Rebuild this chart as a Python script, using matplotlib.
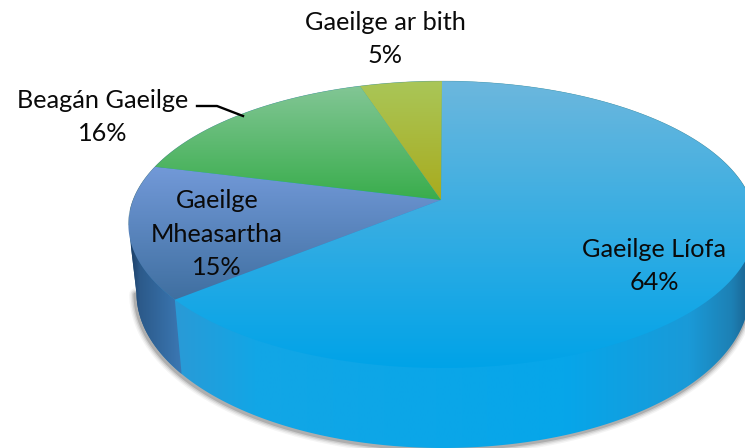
import numpy as np
import matplotlib
matplotlib.use('Agg')
import matplotlib.pyplot as plt
from matplotlib.colors import LinearSegmentedColormap
from matplotlib.patches import PathPatch
from matplotlib.path import Path

plt.rcParams['font.family'] = ['Lato', 'DejaVu Sans']

labels = ['Gaeilge Líofa', 'Gaeilge\nMheasartha', 'Beagán Gaeilge', 'Gaeilge ar bith']
values = [64, 15, 16, 5]
top_colors = [('#6cb7dd', '#00a3e8'), ('#7299d8', '#3f6fa0'), ('#82c695', '#39ad4c'), ('#aac658', '#a8ab1e')]

# perspective of the disc, in pixels of the picture
TOP_DISC = dict(cx=442, cy=200, a=309, b=139.3, k=0.1708)
BOTTOM_DISC = dict(cx=443, cy=266.5, a=302, b=150.5, k=0.1708)
APEX = (441, 200)


def project(frac, disc):
    # frac goes clockwise from twelve o'clock
    ang = 2 * np.pi * np.asarray(frac)
    x, y = np.sin(ang), np.cos(ang)
    d = 1 + disc['k'] * y
    return disc['cx'] + disc['a'] * x / d, disc['cy'] - disc['b'] * y / d


def fill_gradient(ax, path, stops, vertical=True, extent=None, zorder=2):
    cmap = LinearSegmentedColormap.from_list('g', stops)
    grad = np.linspace(0, 1, 256)
    grad = grad[:, None] if vertical else grad[None, :]
    x0, x1, y0, y1 = extent
    im = ax.imshow(grad, cmap=cmap, extent=(x0, x1, y1, y0), aspect='auto', origin='upper',
                   vmin=0, vmax=1, zorder=zorder, interpolation='bilinear')
    patch = PathPatch(path, transform=ax.transData, fc='none', ec='none')
    ax.add_patch(patch)
    im.set_clip_path(patch)


fig = plt.figure(figsize=(7.45, 4.48), dpi=100)
ax = fig.add_axes([0, 0, 1, 1])

t = np.linspace(0, 1, 721)[:-1]
tx, ty = project(t, TOP_DISC)
bx, by = project(t, BOTTOM_DISC)

# silhouette: top rim over the top, bottom rim under the bottom
i_r = np.argmax(tx)
i_l = np.argmin(tx)
j_r = np.argmax(bx)
j_l = np.argmin(bx)
upper = np.r_[i_l:len(t), 0:i_r + 1]
lower = np.arange(j_r, j_l + 1)
sil = np.vstack([np.c_[tx[upper], ty[upper]], np.c_[bx[lower], by[lower]]])
sil_path = Path(np.vstack([sil, sil[0]]), closed=True)

# soft shadow round the lower edge
for lw, al in zip([9, 7, 5, 3], [0.05, 0.08, 0.12, 0.2]):
    ax.plot(bx[lower] - 1, by[lower] + 1, color='#303030', lw=lw, alpha=al, zorder=1, solid_capstyle='round')

# wall of the big slice
stops = [(0, '#1c4f7a'), (0.07, '#2a9ad6'), (0.2, '#12a6e6'), (0.7, '#06a6ea'), (0.9, '#1a9ad8'), (0.97, '#1d80b4'), (1, '#1a5f8c')]
fill_gradient(ax, sil_path, stops, vertical=False, extent=(130, 752, 0, 448), zorder=2)

# wall of the periwinkle slice, left of the first boundary
bound = values[0] / sum(values)
px, py = project(bound, TOP_DISC)
qx, qy = project(bound, BOTTOM_DISC)
i_q = np.argmin(np.abs(t - bound))
seg = np.arange(i_q, j_l + 1)
wall = np.vstack([[px, py], np.c_[bx[seg], by[seg]], np.c_[tx[i_l:i_q:-1], ty[i_l:i_q:-1]], [px, py]])
fill_gradient(ax, Path(wall, closed=True), [(0, '#1d3f68'), (0.18, '#2c5a8a'), (1, '#3b78b4')],
              vertical=False, extent=(131, qx, 0, 448), zorder=3)

# top surface, one wedge at a time
cum = np.cumsum([0] + values) / sum(values)
for i in range(len(values)):
    f = np.linspace(cum[i], cum[i + 1], 300)
    wx, wy = project(f, TOP_DISC)
    pts = np.vstack([APEX, np.c_[wx, wy], APEX])
    if i == 0:
        e = (120, 760, float(ty.min()), float(ty.max()))
    else:
        e = (120, 760, float(wy.min()), max(float(wy.max()), APEX[1]))
    fill_gradient(ax, Path(pts, closed=True), list(top_colors[i]), extent=e, zorder=4 + i)

ax.plot(tx[upper], ty[upper], color='#5a7f70', lw=0.4, alpha=0.4, zorder=9)

# leader line for the small label
ax.plot([197, 217, 243], [106, 106, 116], color='black', lw=1.7, zorder=10)

FS = 18.2
LS = 1.55
text_color = '#0a0a0a'
ax.text(654, 266, f'{labels[0]}\n{values[0]}%', ha='center', va='center', fontsize=FS, color=text_color, linespacing=LS, zorder=11)
ax.text(217, 234, f'{labels[1]}\n{values[1]}%', ha='center', va='center', fontsize=FS, color=text_color, linespacing=LS, zorder=11)
ax.text(103, 117, f'{labels[2]}\n{values[2]}%', ha='center', va='center', fontsize=FS, color=text_color, linespacing=LS, zorder=11)
ax.text(385, 39, f'{labels[3]}\n{values[3]}%', ha='center', va='center', fontsize=FS, color=text_color, linespacing=LS, zorder=11)

ax.set_xlim(0, 745)
ax.set_ylim(448, 0)
ax.axis('off')
fig.savefig('out.png', dpi=100, facecolor='white')
